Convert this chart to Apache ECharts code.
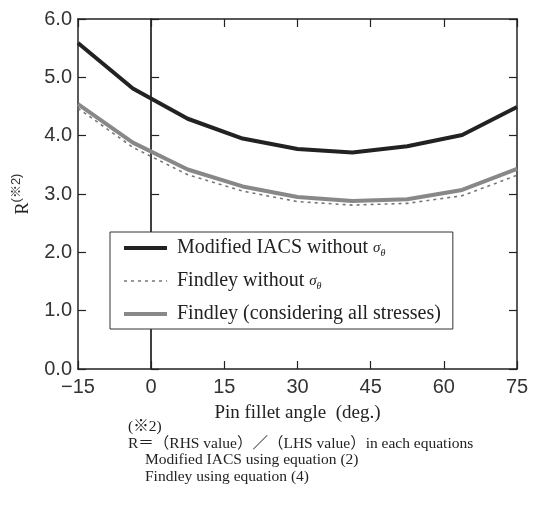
<!DOCTYPE html>
<html>
<head>
<meta charset="utf-8">
<script src="https://cdn.jsdelivr.net/npm/echarts@6/dist/echarts.min.js"></script>
<style>
  html, body { margin: 0; padding: 0; background: #fff; }
  #chart { width: 534px; height: 505px; }
</style>
</head>
<body>
<div id="chart"></div>
<script>
// 横軸: ピン隅角 (deg.)
const angles = [-15, -3.75, 7.5, 18.75, 30, 41.25, 52.5, 63.75, 75];
// R 値
const iacsNoSigma = [5.59, 4.81, 4.29, 3.95, 3.77, 3.71, 3.82, 4.01, 4.49];
const findleyNoSigma = [4.47, 3.80, 3.33, 3.05, 2.87, 2.81, 2.84, 2.97, 3.32];
const findleyAll = [4.54, 3.88, 3.42, 3.13, 2.95, 2.88, 2.91, 3.07, 3.43];

const seriesNames = [
    'Modified IACS without σθ',
    'Findley without σθ',
    'Findley (considering all stresses)'
];
const noteLines = [
    '(※2)',
    'R＝（RHS value）／（LHS value）in each equations',
    'Modified IACS using equation (2)',
    'Findley using equation (4)'
];
const noteIndent = [128, 128, 145, 145];

const serif = '"Liberation Serif", "Noto Sans CJK JP", serif';
const sans = '"Liberation Sans", Arial, "Noto Sans CJK JP", sans-serif';
const axisColor = '#222';

const toPairs = (ys) => angles.map((x, i) => [x, ys[i]]);

const chart = echarts.init(document.getElementById('chart'));

const commonX = {
    type: 'value',
    min: -15,
    max: 75,
    interval: 15,
    splitLine: { show: false },
    axisLine: { onZero: false, lineStyle: { color: axisColor, width: 1.5 } },
    axisTick: { inside: true, length: 8, lineStyle: { color: axisColor, width: 1.2 } }
};
const commonY = {
    type: 'value',
    min: 0,
    max: 6,
    interval: 1,
    splitLine: { show: false },
    axisLine: { onZero: false, lineStyle: { color: axisColor, width: 1.5 } },
    axisTick: { inside: true, length: 8, lineStyle: { color: axisColor, width: 1.2 } }
};

const option = {
    animation: false,
    backgroundColor: '#fff',
    grid: { left: 78, right: 17, top: 19, bottom: 136, containLabel: false, outerBoundsMode: 'none' },
    xAxis: [
        Object.assign({}, commonX, {
            position: 'bottom',
            name: 'Pin fillet angle  (deg.)',
            nameLocation: 'middle',
            nameGap: 35,
            nameTextStyle: { fontFamily: serif, fontSize: 19, color: '#222', verticalAlign: 'top' },
            axisLabel: {
                margin: 8,
                fontFamily: sans,
                fontSize: 20,
                color: '#333',
                formatter: (v) => (v < 0 ? '\u2212' + Math.abs(v) : String(v))
            }
        }),
        Object.assign({}, commonX, {
            position: 'top',
            axisLabel: { show: false }
        })
    ],
    yAxis: [
        Object.assign({}, commonY, {
            position: 'left',
            name: '{r|R}{s|(※2)}',
            nameLocation: 'middle',
            nameRotate: 90,
            nameGap: 46,
            nameTextStyle: {
                rich: {
                    r: { fontFamily: serif, fontSize: 18, color: '#222', lineHeight: 22, verticalAlign: 'bottom' },
                    s: { fontFamily: sans, fontSize: 13, color: '#333', lineHeight: 22, verticalAlign: 'top' }
                }
            },
            axisLabel: {
                margin: 6,
                fontFamily: sans,
                fontSize: 20,
                color: '#333',
                formatter: (v) => v.toFixed(1)
            }
        }),
        Object.assign({}, commonY, {
            position: 'right',
            axisLabel: { show: false }
        }),
        Object.assign({}, commonY, {
            position: 'left',
            axisLine: { onZero: true, onZeroAxisIndex: 0, lineStyle: { color: '#000', width: 1.5 } },
            axisLabel: { show: false }
        })
    ],
    legend: {
        orient: 'vertical',
        left: 110,
        top: 232,
        padding: [6, 12, 5, 12],
        itemGap: 13,
        itemWidth: 43,
        itemHeight: 14,
        borderColor: '#333',
        borderWidth: 1,
        backgroundColor: '#fff',
        itemStyle: { opacity: 0 },
        lineStyle: { width: 'inherit' },
        data: seriesNames,
        formatter: (name) => {
            if (name.endsWith('σθ')) {
                return '{t|' + name.slice(0, -2) + '}{g|σ}{sub|θ}';
            }
            return '{t|' + name + '}';
        },
        textStyle: {
            padding: [0, 0, 0, 5],
            lineHeight: 20,
            rich: {
                t: { fontFamily: serif, fontSize: 20, color: '#222', lineHeight: 20 },
                g: { fontFamily: serif, fontSize: 15, fontStyle: 'italic', color: '#222', lineHeight: 20 },
                sub: { fontFamily: serif, fontSize: 10, fontStyle: 'italic', color: '#222', lineHeight: 14, verticalAlign: 'bottom', padding: [6, 0, 0, 0] }
            }
        }
    },
    series: [
        {
            name: seriesNames[0],
            type: 'line',
            symbol: 'none',
            data: toPairs(iacsNoSigma),
            lineStyle: { color: '#222', width: 4 },
            itemStyle: { color: '#222' },
            z: 4
        },
        {
            name: seriesNames[1],
            type: 'line',
            symbol: 'none',
            data: toPairs(findleyNoSigma),
            lineStyle: { color: '#777', width: 1.6, type: [3, 4] },
            itemStyle: { color: '#777' },
            z: 2
        },
        {
            name: seriesNames[2],
            type: 'line',
            symbol: 'none',
            data: toPairs(findleyAll),
            lineStyle: { color: '#888', width: 4 },
            itemStyle: { color: '#888' },
            z: 3
        }
    ],
    graphic: noteLines.map((line, i) => ({
        type: 'text',
        left: noteIndent[i],
        top: 419 + i * 16.7,
        style: {
            text: line,
            font: '15.5px ' + serif,
            fill: '#222'
        }
    }))
};

chart.setOption(option);
</script>
</body>
</html>
